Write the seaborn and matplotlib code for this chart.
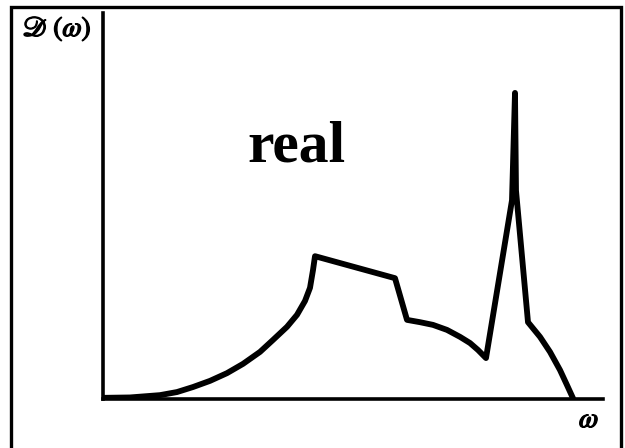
import matplotlib
matplotlib.use('Agg')
import matplotlib.pyplot as plt
import matplotlib.patheffects as pe
import seaborn as sns
import pandas as pd
from matplotlib.patches import Rectangle

# Schematic density of states, arbitrary units (axes span 0..10 on both)
omega = [0.00, 0.54, 1.14, 1.48, 1.80, 2.14, 2.48, 2.80, 3.14, 3.40,
         3.68, 3.88, 4.04, 4.14, 4.20, 4.24,
         5.84, 6.08, 6.34, 6.60, 6.88, 7.14, 7.34, 7.50, 7.66,
         8.18, 8.24, 8.26, 8.50, 8.74, 8.94, 9.14, 9.28, 9.40]
dos = [0.03, 0.04, 0.10, 0.18, 0.31, 0.47, 0.67, 0.91, 1.22, 1.53,
       1.87, 2.18, 2.54, 2.88, 3.34, 3.70,
       3.13, 2.05, 1.99, 1.92, 1.79, 1.61, 1.45, 1.27, 1.06,
       5.15, 7.93, 5.40, 1.99, 1.61, 1.22, 0.75, 0.36, 0.02]

df = pd.DataFrame({"omega": omega, "dos": dos})

sns.set_style("white")
plt.rcParams['mathtext.fontset'] = 'stix'
plt.rcParams['text.color'] = 'black'

fig = plt.figure(figsize=(6.25, 4.48), dpi=100)
ax = fig.add_axes([103 / 625, 49 / 448, 500 / 625, 386 / 448])

sns.lineplot(data=df, x="omega", y="dos", sort=False, color="black",
             linewidth=4.2, ax=ax)

ax.set_xlim(0, 10)
ax.set_ylim(0, 10)
ax.set_xticks([])
ax.set_yticks([])
ax.set_xlabel("")
ax.set_ylabel("")
sns.despine(ax=ax)
for side in ["left", "bottom"]:
    ax.spines[side].set_linewidth(2.6)
    ax.spines[side].set_color("black")

ax.text(3.86, 6.14, "real", ha="center", va="baseline", fontsize=43,
        fontweight="bold", family="Liberation Serif", color="black")

thick = [pe.withStroke(linewidth=1.0, foreground="black")]
fig.text(23 / 625, 1 - 36 / 448, r"$\mathscr{D}\;(\omega)$", fontsize=20,
         ha="left", va="baseline", color="black", path_effects=thick)
fig.text(579 / 625, 1 - 427 / 448, r"$\omega$", fontsize=20,
         ha="left", va="baseline", color="black", path_effects=thick)

# outer frame (bottom edge lies outside the image)
fig.add_artist(Rectangle((11 / 625, -0.1), 610 / 625, 1.1 - 7 / 448,
                         transform=fig.transFigure, fill=False,
                         edgecolor="black", linewidth=2.4, clip_on=False))

fig.savefig("out.png", dpi=100)
plt.close(fig)
